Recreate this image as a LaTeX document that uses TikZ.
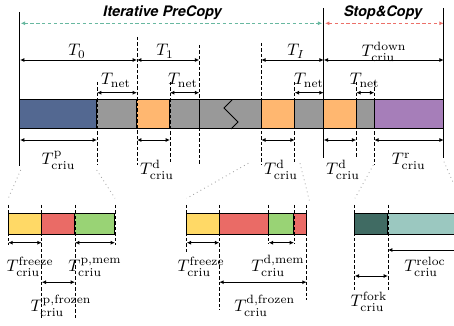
\documentclass[tikz,border=0pt]{standalone}
\usepackage{amsmath}
\usepackage{fontspec}
\usetikzlibrary{arrows.meta}
\newfontfamily\headfont{TeX Gyre Heros}

\definecolor{cBlue}{RGB}{83,104,145}
\definecolor{cGray}{RGB}{153,153,153}
\definecolor{cOrange}{RGB}{255,183,112}
\definecolor{cPurple}{RGB}{166,126,185}
\definecolor{cYellow}{RGB}{255,217,102}
\definecolor{cRed}{RGB}{234,107,102}
\definecolor{cGreen}{RGB}{153,211,117}
\definecolor{cDTeal}{RGB}{64,107,99}
\definecolor{cLTeal}{RGB}{155,200,192}
\definecolor{cPhPre}{RGB}{104,184,160}
\definecolor{cPhStop}{RGB}{236,112,105}

\newcommand{\tcriu}[1]{$T^{\mathrm{#1}}_{\mathrm{criu}}$}

\tikzset{
  seg/.style={draw=black, line width=0.6pt},
  dim/.style={{Latex[length=2.6pt,width=2.4pt]}-{Latex[length=2.6pt,width=2.4pt]}, line width=0.55pt},
  dimr/.style={-{Latex[length=2.6pt,width=2.4pt]}, line width=0.55pt},
  guide/.style={dash pattern=on 2pt off 1.3pt, line width=0.55pt},
  bound/.style={line width=0.6pt},
  phase/.style={{Latex[length=2.6pt,width=2.4pt]}-{Latex[length=2.6pt,width=2.4pt]}, dash pattern=on 2pt off 1.5pt, line width=0.6pt},
  zoomln/.style={dotted, gray!75, line width=0.5pt},
  lbl/.style={font=\fontsize{10.3}{12}\selectfont, anchor=base, inner sep=0pt},
  head/.style={font=\headfont\bfseries\itshape\fontsize{8.7}{10}\selectfont, anchor=base, inner sep=0pt}
}

\begin{document}
\begin{tikzpicture}[x=0.6pt,y=-0.6pt]
\useasboundingbox (0,0) rectangle (454,326);

% phases
\node[head] (hpre) at (162.5,16.7) {Iterative PreCopy};
\node[head] (hstop) at (383,16.7) {Stop\&Copy};
\coordinate (ph0) at (20.7,23.3);
\coordinate (ph1) at (322.3,23.3);
\coordinate (ph2) at (325.1,23.3);
\coordinate (ph3) at (443.7,23.3);
\draw[phase, cPhPre] (ph0) -- (ph1);
\draw[phase, cPhStop] (ph2) -- (ph3);

% main timeline
\foreach \a/\b/\c in {20/97/cBlue, 97/137/cGray, 137/170/cOrange, 170/199.3/cGray,
  199.3/261.3/cGray, 261.3/294.7/cOrange, 294.7/323.7/cGray, 323.7/356.3/cOrange,
  356.3/374.3/cGray, 374.3/443.7/cPurple}
  \draw[seg, fill=\c] (\a,100) rectangle (\b,129);
\draw[seg] (232,100) -- (224,108) -- (238,122) -- (231,129);
\foreach \i/\x in {0/20, 1/97, 2/137, 3/170, 4/199.3, 5/261.3, 6/294.7, 7/323.7, 8/356.3, 9/374.3, 10/443.7}
  \coordinate (m\i) at (\x,100);

\draw[bound] (20,12) -- (20,166);
\draw[bound] (323.7,8) -- (323.7,158);
\draw[bound] (443.7,8) -- (443.7,158);
\foreach \x/\t/\b in {97/82/165, 137/37/165, 170/82/163, 199.3/45/165, 261.3/43/165,
  294.7/82/163, 356.3/82/158, 374.3/82/165}
  \draw[guide] (\x,\t) -- (\x,\b);

\coordinate (rT) at (0,60);
\coordinate (rN) at (0,92.7);
\coordinate (rC) at (0,140);
\draw[dim] (m0|-rT) -- (m2|-rT);
\draw[dim] (m2|-rT) -- (m4|-rT);
\draw[dim] (m5|-rT) -- (m7|-rT);
\draw[dim] (m7|-rT) -- (m10|-rT);
\node[lbl] (lt0) at (77,56) {$T_0$};
\node[lbl] (lt1) at (165,56) {$T_1$};
\node[lbl] (lti) at (296,56) {$T_I$};
\node[lbl] (ldown) at (384,56.7) {\tcriu{down}};

\draw[dim] (m1|-rN) -- (m2|-rN);
\draw[dim] (m3|-rN) -- (m4|-rN);
\draw[dim] (m6|-rN) -- (m7|-rN);
\draw[dim] (m8|-rN) -- (m9|-rN);
\foreach \x/\n in {116/1, 183/2, 309/3, 364.6/4}
  \node[lbl] (lnet\n) at (\x,85) {$T_{\mathrm{net}}$};

\draw[dim] (m0|-rC) -- (m1|-rC);
\draw[dim] (m2|-rC) -- (m3|-rC);
\draw[dim] (m5|-rC) -- (m6|-rC);
\draw[dim] (m7|-rC) -- (m8|-rC);
\draw[dim] (m9|-rC) -- (m10|-rC);
\node[lbl] (lp) at (58.5,165) {\tcriu{p}};
\node[lbl] (ld1) at (157,175) {\tcriu{d}};
\node[lbl] (ld2) at (281,175) {\tcriu{d}};
\node[lbl] (ld3) at (343,175) {\tcriu{d}};
\node[lbl] (lr) at (408.7,165) {\tcriu{r}};

% zoom lines
\draw[zoomln] (20.7,170) -- (8.3,198.3);
\draw[zoomln] (96.7,170) -- (115,198.3);
\draw[zoomln] (248.3,163.3) -- (186.7,198.3);
\draw[zoomln] (300,163.3) -- (310,203);
\draw[zoomln] (373.3,165) -- (355,198.3);
\draw[zoomln] (444,161.7) -- (453.5,183.3);

% detail of T_criu^p
\foreach \a/\b/\c in {8.3/41.7/cYellow, 41.7/75/cRed, 75/115/cGreen}
  \draw[seg, fill=\c] (\a,213.3) rectangle (\b,235);
\foreach \i/\x in {0/8.3, 1/41.7, 2/75, 3/115}
  \coordinate (p\i) at (\x,213.3);

% detail of T_criu^d
\foreach \a/\b/\c in {186.7/219.3/cYellow, 219.3/268.7/cRed, 268.7/294/cGreen, 294/306.7/cRed}
  \draw[seg, fill=\c] (\a,213.3) rectangle (\b,235);
\foreach \i/\x in {0/186.7, 1/219.3, 2/268.7, 3/294, 4/306.7}
  \coordinate (q\i) at (\x,213.3);

% detail of T_criu^r
\draw[seg, fill=cDTeal] (354.7,213.3) rectangle (388,235);
\fill[cLTeal] (388,213.3) rectangle (454,235);
\draw[seg] (454,213.3) -- (388,213.3) -- (388,235) -- (454,235);
\coordinate (r0) at (354.7,213.3);
\coordinate (r1) at (388,213.3);
\coordinate (redge) at (454,213.3);

\foreach \x/\b in {8.3/245, 41.7/320, 75/320, 115/245, 186.7/252, 219.3/310, 268.7/244,
  294/244, 306.7/300, 354.7/290, 388/290}
  \draw[guide] (\x,205) -- (\x,\b);

\coordinate (dA) at (0,242.7);
\coordinate (dB) at (0,282.2);
\coordinate (dF) at (0,276);
\coordinate (dR) at (0,250);
\draw[dim] (p0|-dA) -- (p1|-dA);
\draw[dim] (p2|-dA) -- (p3|-dA);
\draw[dim] (p1|-dB) -- (p2|-dB);
\draw[dim] (q0|-dA) -- (q1|-dA);
\draw[dim] (q2|-dA) -- (q3|-dA);
\draw[dim] (q1|-dB) -- (q4|-dB);
\draw[dim] (r0|-dF) -- (r1|-dF);
\draw[dimr] (redge|-dR) -- (r1|-dR);

\node[lbl] (lfz1) at (30,272) {\tcriu{freeze}};
\node[lbl] (lpmem) at (95,272) {\tcriu{p,mem}};
\node[lbl] (lpfro) at (61,311.7) {\tcriu{p,frozen}};
\node[lbl] (lfz2) at (201,272) {\tcriu{freeze}};
\node[lbl] (ldmem) at (278,272) {\tcriu{d,mem}};
\node[lbl] (ldfro) at (264.7,311.7) {\tcriu{d,frozen}};
\node[lbl] (lfork) at (369,306.7) {\tcriu{fork}};
\node[lbl] (lreloc) at (425,271.7) {\tcriu{reloc}};
\end{tikzpicture}
\end{document}
